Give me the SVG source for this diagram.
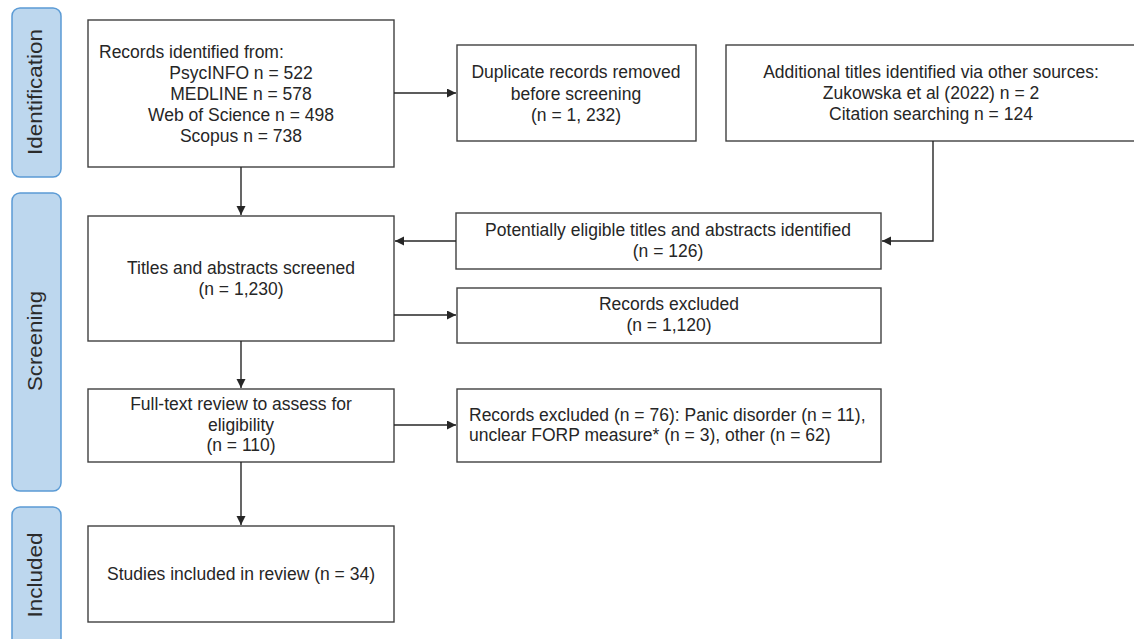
<svg xmlns="http://www.w3.org/2000/svg" width="1134" height="639" viewBox="0 0 1134 639">
<defs>
<style>
.phase{fill:#bdd7ee;stroke:#5b9bd5;stroke-width:1.5}
.ptxt{font-family:"Liberation Sans",Arial,sans-serif;font-size:20px;fill:#2b2b2b}
.box{fill:#fff;stroke:#404040;stroke-width:1.4}
.t{font-family:"Liberation Sans",Arial,sans-serif;font-size:17.5px;fill:#262626}
.c{text-anchor:middle}
.conn{fill:none;stroke:#262626;stroke-width:1.4}
</style>
<marker id="ah" markerUnits="userSpaceOnUse" markerWidth="10" markerHeight="10" refX="9" refY="4.5" orient="auto">
<path d="M0,0 L9,4.5 L0,9 z" fill="#262626"/>
</marker>
</defs>
<rect width="1134" height="639" fill="#fff"/>

<g id="phase-identification">
<rect class="phase" x="12" y="8" width="49" height="169" rx="8"/>
<text class="ptxt" text-anchor="middle" transform="translate(42,92) rotate(-90)" textLength="126" lengthAdjust="spacingAndGlyphs">Identification</text>
</g>
<g id="phase-screening">
<rect class="phase" x="12" y="193" width="49" height="298" rx="8"/>
<text class="ptxt" text-anchor="middle" transform="translate(42,341) rotate(-90)" textLength="100" lengthAdjust="spacingAndGlyphs">Screening</text>
</g>
<g id="phase-included">
<rect class="phase" x="12" y="507" width="49" height="140" rx="8"/>
<text class="ptxt" text-anchor="middle" transform="translate(42,575) rotate(-90)" textLength="85" lengthAdjust="spacingAndGlyphs">Included</text>
</g>

<g id="records-identified">
<rect class="box" x="88" y="20" width="306" height="147"/>
<text class="t" x="99" y="58">Records identified from:</text>
<text class="t c" x="241" y="79">PsycINFO n = 522</text>
<text class="t c" x="241" y="100">MEDLINE  n = 578</text>
<text class="t c" x="241" y="121">Web of Science n = 498</text>
<text class="t c" x="241" y="142">Scopus n = 738</text>
</g>

<g id="duplicates">
<rect class="box" x="457" y="45" width="239" height="96"/>
<text class="t c" x="576" y="78">Duplicate records removed</text>
<text class="t c" x="576" y="100">before screening</text>
<text class="t c" x="576" y="121">(n = 1, 232)</text>
</g>

<g id="additional">
<rect class="box" x="726" y="45" width="412" height="96"/>
<text class="t c" x="931" y="78">Additional  titles identified via other sources:</text>
<text class="t c" x="931" y="99">Zukowska et al (2022) n = 2</text>
<text class="t c" x="931" y="120">Citation searching n = 124</text>
</g>

<g id="titles-screened">
<rect class="box" x="88" y="216" width="306" height="125"/>
<text class="t c" x="241" y="274">Titles and abstracts screened</text>
<text class="t c" x="241" y="295">(n = 1,230)</text>
</g>

<g id="potentially-eligible">
<rect class="box" x="456" y="213" width="425" height="56"/>
<text class="t c" x="668" y="236">Potentially eligible titles and abstracts identified</text>
<text class="t c" x="668" y="257">(n = 126)</text>
</g>

<g id="records-excluded">
<rect class="box" x="457" y="288" width="424" height="55"/>
<text class="t c" x="669" y="310">Records excluded</text>
<text class="t c" x="669" y="331">(n = 1,120)</text>
</g>

<g id="full-text">
<rect class="box" x="88" y="389" width="306" height="73"/>
<text class="t c" x="241" y="410">Full-text review to assess for</text>
<text class="t c" x="241" y="431">eligibility</text>
<text class="t c" x="241" y="451">(n = 110)</text>
</g>

<g id="fulltext-excluded">
<rect class="box" x="457" y="389" width="424" height="73"/>
<text class="t" x="469" y="421">Records excluded (n = 76): Panic disorder (n = 11),</text>
<text class="t" x="469" y="441">unclear FORP measure* (n = 3), other (n = 62)</text>
</g>

<g id="included">
<rect class="box" x="88" y="526" width="306" height="96"/>
<text class="t c" x="241" y="580">Studies included in review (n = 34)</text>
</g>

<g id="connectors">
<path class="conn" d="M394,93 H456" marker-end="url(#ah)"/>
<path class="conn" d="M241,167 V215" marker-end="url(#ah)"/>
<path class="conn" d="M933,141 V241 H882" marker-end="url(#ah)"/>
<path class="conn" d="M456,241 H395" marker-end="url(#ah)"/>
<path class="conn" d="M394,315 H456" marker-end="url(#ah)"/>
<path class="conn" d="M241,341 V388" marker-end="url(#ah)"/>
<path class="conn" d="M394,425 H456" marker-end="url(#ah)"/>
<path class="conn" d="M241,462 V525" marker-end="url(#ah)"/>
</g>
</svg>
